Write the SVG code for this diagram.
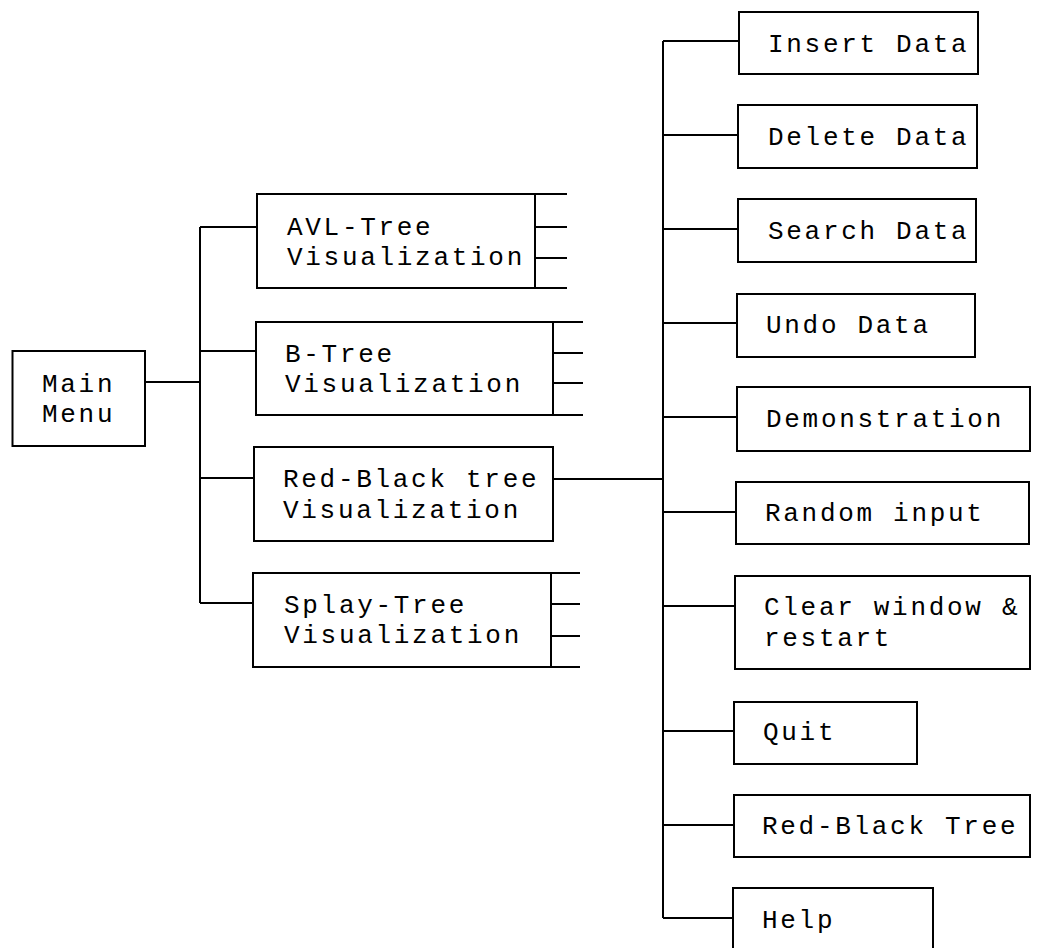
<svg xmlns="http://www.w3.org/2000/svg" width="1041" height="948" viewBox="0 0 1041 948">
<style>
.box{fill:#fff;stroke:#000;stroke-width:2}
.ln{fill:none;stroke:#000;stroke-width:2}
text{font-family:"Liberation Mono","Courier New",monospace;font-size:26px;letter-spacing:2.7px;fill:#000}
</style>
<rect width="1041" height="948" fill="#fff"/>
<g id="connectors" class="ln">
<path d="M145 382H200M200 227V603M200 227H257M200 351H256M200 478H254M200 603H253"/>
<path d="M553 479H663M663 41V918"/>
<path d="M663 41H739M663 135H738M663 229H738M663 323H737M663 417H737M663 512H736M663 606H735M663 731H734M663 825H734M663 918H733"/>
<path d="M535 194H567M535 227H567M535 258H567M535 288H567"/>
<path d="M553 322H583M553 353H583M553 383H583M553 415H583"/>
<path d="M551 573H580M551 604H580M551 636H580M551 667H580"/>
</g>
<g id="main"><rect class="box" x="12.5" y="351" width="132.5" height="95"/><text x="42" y="392">Main</text><text x="42" y="422">Menu</text></g>
<g id="avl"><rect class="box" x="257" y="194" width="278" height="94"/><text x="287" y="235">AVL-Tree</text><text x="287" y="265">Visualization</text></g>
<g id="btree"><rect class="box" x="256" y="322" width="297" height="93"/><text x="285" y="362">B-Tree</text><text x="285" y="392">Visualization</text></g>
<g id="rbtree"><rect class="box" x="254" y="447" width="299" height="94"/><text x="283" y="487">Red-Black tree</text><text x="283" y="518">Visualization</text></g>
<g id="splay"><rect class="box" x="253" y="573" width="298" height="94"/><text x="284" y="613">Splay-Tree</text><text x="284" y="643">Visualization</text></g>
<g id="insert"><rect class="box" x="739" y="12" width="239" height="62"/><text x="768" y="52">Insert Data</text></g>
<g id="delete"><rect class="box" x="738" y="105" width="239" height="63"/><text x="768" y="145">Delete Data</text></g>
<g id="search"><rect class="box" x="738" y="199" width="238" height="63"/><text x="768" y="239">Search Data</text></g>
<g id="undo"><rect class="box" x="737" y="294" width="238" height="63"/><text x="766" y="333">Undo Data</text></g>
<g id="demo"><rect class="box" x="737" y="387" width="293" height="64"/><text x="766" y="427">Demonstration</text></g>
<g id="random"><rect class="box" x="736" y="482" width="293" height="62"/><text x="765" y="521">Random input</text></g>
<g id="clear"><rect class="box" x="735" y="576" width="295" height="93"/><text x="764" y="615">Clear window &amp;</text><text x="764" y="646">restart</text></g>
<g id="quit"><rect class="box" x="734" y="702" width="183" height="62"/><text x="763" y="740">Quit</text></g>
<g id="rbt"><rect class="box" x="734" y="795" width="296" height="62"/><text x="762" y="834">Red-Black Tree</text></g>
<g id="help"><rect class="box" x="733" y="888" width="200" height="70"/><text x="762" y="928">Help</text></g>
</svg>
